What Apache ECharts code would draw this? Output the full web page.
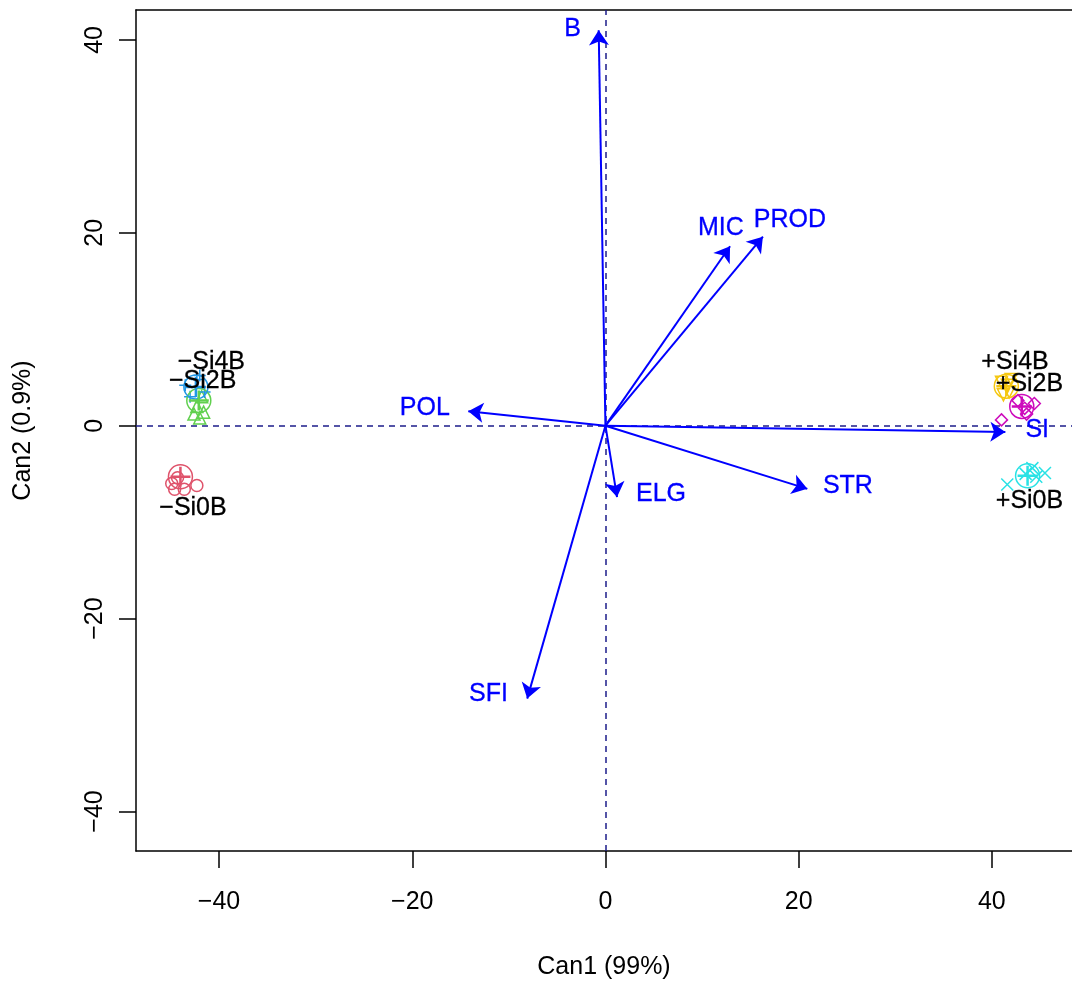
<!DOCTYPE html>
<html>
<head>
<meta charset="utf-8">
<script src="https://cdn.jsdelivr.net/npm/echarts@6/dist/echarts.min.js"></script>
<style>
html,body{margin:0;padding:0;background:#fff;}
#chart{width:1072px;height:981px;}
</style>
</head>
<body>
<div id="chart"></div>
<script>
// ---- data ----
const xTicks = [-40, -20, 0, 20, 40];
const yTicks = [-40, -20, 0, 20, 40];
const xTitle = 'Can1 (99%)';
const yTitle = 'Can2 (0.9%)';

// structure vectors (arrows)
const variables = ['B', 'MIC', 'PROD', 'POL', 'SI', 'STR', 'ELG', 'SFI'];
const structX = [-0.7, 12.9, 16.3, -14.2, 41.4, 20.9, 1.2, -8.1];
const structY = [41.0, 18.6, 19.6, 1.5, -0.65, -6.55, -7.4, -28.3];
const varLabelX = [-3.4, 11.95, 19.1, -18.7, 44.7, 25.1, 5.75, -12.1];
const varLabelY = [41.1, 20.5, 21.3, 1.85, -0.44, -6.3, -7.07, -27.8];

// groups
const groups = ['\u2212Si0B', '\u2212Si2B', '\u2212Si4B', '+Si0B', '+Si2B', '+Si4B'];
const groupMeanX = [-44.0, -42.1, -42.4, 43.7, 43.1, 41.5];
const groupMeanY = [-5.3, 2.6, 4.0, -5.2, 2.0, 4.1];
const groupLabelX = [-42.7, -41.7, -40.8, 43.9, 43.9, 42.4];
const groupLabelY = [-8.5, 4.6, 6.6, -7.85, 4.3, 6.6];

// observation scores per group
const g1X = [-44.9, -44.3, -43.6, -42.3, -44.6];
const g1Y = [-6.0, -5.4, -6.6, -6.2, -6.6];
const g2X = [-42.6, -41.6, -42.0, -42.3, -41.8];
const g2Y = [1.2, 1.4, 0.8, 2.0, 3.0];
const g3X = [-43.5, -42.3, -41.5, -43.0, -42.0];
const g3Y = [4.2, 4.8, 3.5, 3.0, 5.2];
const g4X = [41.6, 45.5, 44.2, 43.5, 44.6];
const g4Y = [-6.1, -4.9, -4.4, -5.0, -5.3];
const g5X = [41.0, 44.4, 43.6, 42.7, 43.4];
const g5Y = [0.6, 2.3, 1.2, 2.6, 1.8];
const g6X = [41.0, 41.8, 42.0, 41.2, 41.6];
const g6Y = [4.5, 3.5, 4.8, 3.2, 4.2];
const groupX = [g1X, g2X, g3X, g4X, g5X, g6X];
const groupY = [g1Y, g2Y, g3Y, g4Y, g5Y, g6Y];

// ---- styles ----
const FONT = "'Liberation Sans', Arial, sans-serif";
const groupColors = ['#DF536B', '#61D04F', '#2297E6', '#28E2E5', '#CD0BBC', '#F5C710'];
const PLUS = 'path://M5,0L5,10M0,5L10,5';
const XSYM = 'path://M0,0L10,10M0,10L10,0';
const DIAM = 'path://M5,0L10,5L5,10L0,5Z';
const ITRI = 'path://M0,0L10,0L5,8.66Z';
const TRI = 'path://M5,0L10,8.66L0,8.66Z';
const groupSymbols = ['circle', TRI, PLUS, XSYM, DIAM, ITRI];
const ARROW_BLUE = '#0000FF';

const series = [];

// reference dashed lines
series.push({
  type: 'scatter', data: [], silent: true,
  markLine: {
    silent: true, symbol: 'none', animation: false,
    label: {show: false},
    lineStyle: {color: '#1c1c8a', type: [6, 5], width: 1.5, opacity: 1},
    data: [{xAxis: 0}, {yAxis: 0}]
  }
});

// observations
groups.forEach((g, i) => {
  series.push({
    type: 'scatter', name: g, z: 3,
    symbol: groupSymbols[i], symbolSize: 12,
    itemStyle: {color: 'none', borderColor: groupColors[i], borderWidth: 1.5, opacity: 1},
    data: groupX[i].map((x, k) => [x, groupY[i][k]])
  });
});

// ellipses (approx circles) and mean crosses
series.push({
  type: 'scatter', z: 3, symbol: 'circle', symbolSize: 24,
  data: groupMeanX.map((x, i) => ({value: [x, groupMeanY[i]],
    itemStyle: {color: 'none', borderColor: groupColors[i], borderWidth: 1.5, opacity: 1}}))
});
series.push({
  type: 'scatter', z: 4, symbol: PLUS, symbolSize: 20,
  data: groupMeanX.map((x, i) => ({value: [x, groupMeanY[i]],
    itemStyle: {color: 'none', borderColor: groupColors[i], borderWidth: 2.5, opacity: 1}}))
});

// arrows
series.push({
  type: 'lines', coordinateSystem: 'cartesian2d', z: 5,
  symbol: ['none', 'arrow'], symbolSize: [0, 15],
  lineStyle: {color: ARROW_BLUE, width: 2, opacity: 1, curveness: 0},
  data: variables.map((v, i) => ({coords: [[0, 0], [structX[i], structY[i]]]}))
});

const labelBase = {show: true, position: [0, 0], align: 'center', verticalAlign: 'middle',
  formatter: '{b}', fontSize: 25, fontFamily: FONT, textBorderWidth: 0.3};

// variable labels
series.push({
  type: 'scatter', z: 6, symbolSize: 0, silent: true,
  itemStyle: {opacity: 1},
  label: Object.assign({}, labelBase, {color: ARROW_BLUE, textBorderColor: ARROW_BLUE}),
  data: variables.map((v, i) => ({name: v, value: [varLabelX[i], varLabelY[i]]}))
});

// group labels
series.push({
  type: 'scatter', z: 6, symbolSize: 0, silent: true,
  itemStyle: {opacity: 1},
  label: Object.assign({}, labelBase, {color: '#000', textBorderColor: '#000'}),
  data: groups.map((g, i) => ({name: g, value: [groupLabelX[i], groupLabelY[i]]}))
});

const fmt = v => String(v).replace('-', '\u2212');

const X_MIN = -48.6, X_MAX = 48.3;
const option = {
  animation: false,
  backgroundColor: '#fff',
  grid: {left: 136, right: 0, top: 10, bottom: 130, show: false, outerBoundsMode: 'none', containLabel: false},
  xAxis: [{
    type: 'value', min: X_MIN, max: X_MAX,
    name: xTitle, nameLocation: 'middle', nameGap: 104,
    nameTextStyle: {fontSize: 25, fontFamily: FONT, color: '#000'},
    axisLine: {show: true, onZero: false, lineStyle: {color: '#000', width: 1.5}},
    axisTick: {show: true, length: 17, lineStyle: {color: '#000', width: 1.5}, customValues: xTicks},
    axisLabel: {show: true, margin: 39, fontSize: 25, fontFamily: FONT, color: '#000',
      customValues: xTicks, formatter: fmt},
    splitLine: {show: false}
  }, {
    type: 'value', position: 'top', min: X_MIN, max: X_MAX,
    axisLine: {show: true, onZero: false, lineStyle: {color: '#000', width: 1.5}},
    axisTick: {show: false}, axisLabel: {show: false}, splitLine: {show: false}
  }],
  yAxis: {
    type: 'value', min: -44.1, max: 43.1,
    name: yTitle, nameLocation: 'middle', nameGap: 100,
    nameTextStyle: {fontSize: 25, fontFamily: FONT, color: '#000'},
    axisLine: {show: true, onZero: false, lineStyle: {color: '#000', width: 1.5}},
    axisTick: {show: true, length: 17, lineStyle: {color: '#000', width: 1.5}, customValues: yTicks},
    axisLabel: {show: true, margin: 28, rotate: 90, fontSize: 25, fontFamily: FONT, color: '#000',
      customValues: yTicks, formatter: fmt},
    splitLine: {show: false}
  },
  series: series
};

const chart = echarts.init(document.getElementById('chart'), null, {renderer: 'canvas'});
chart.setOption(option);
</script>
</body>
</html>
